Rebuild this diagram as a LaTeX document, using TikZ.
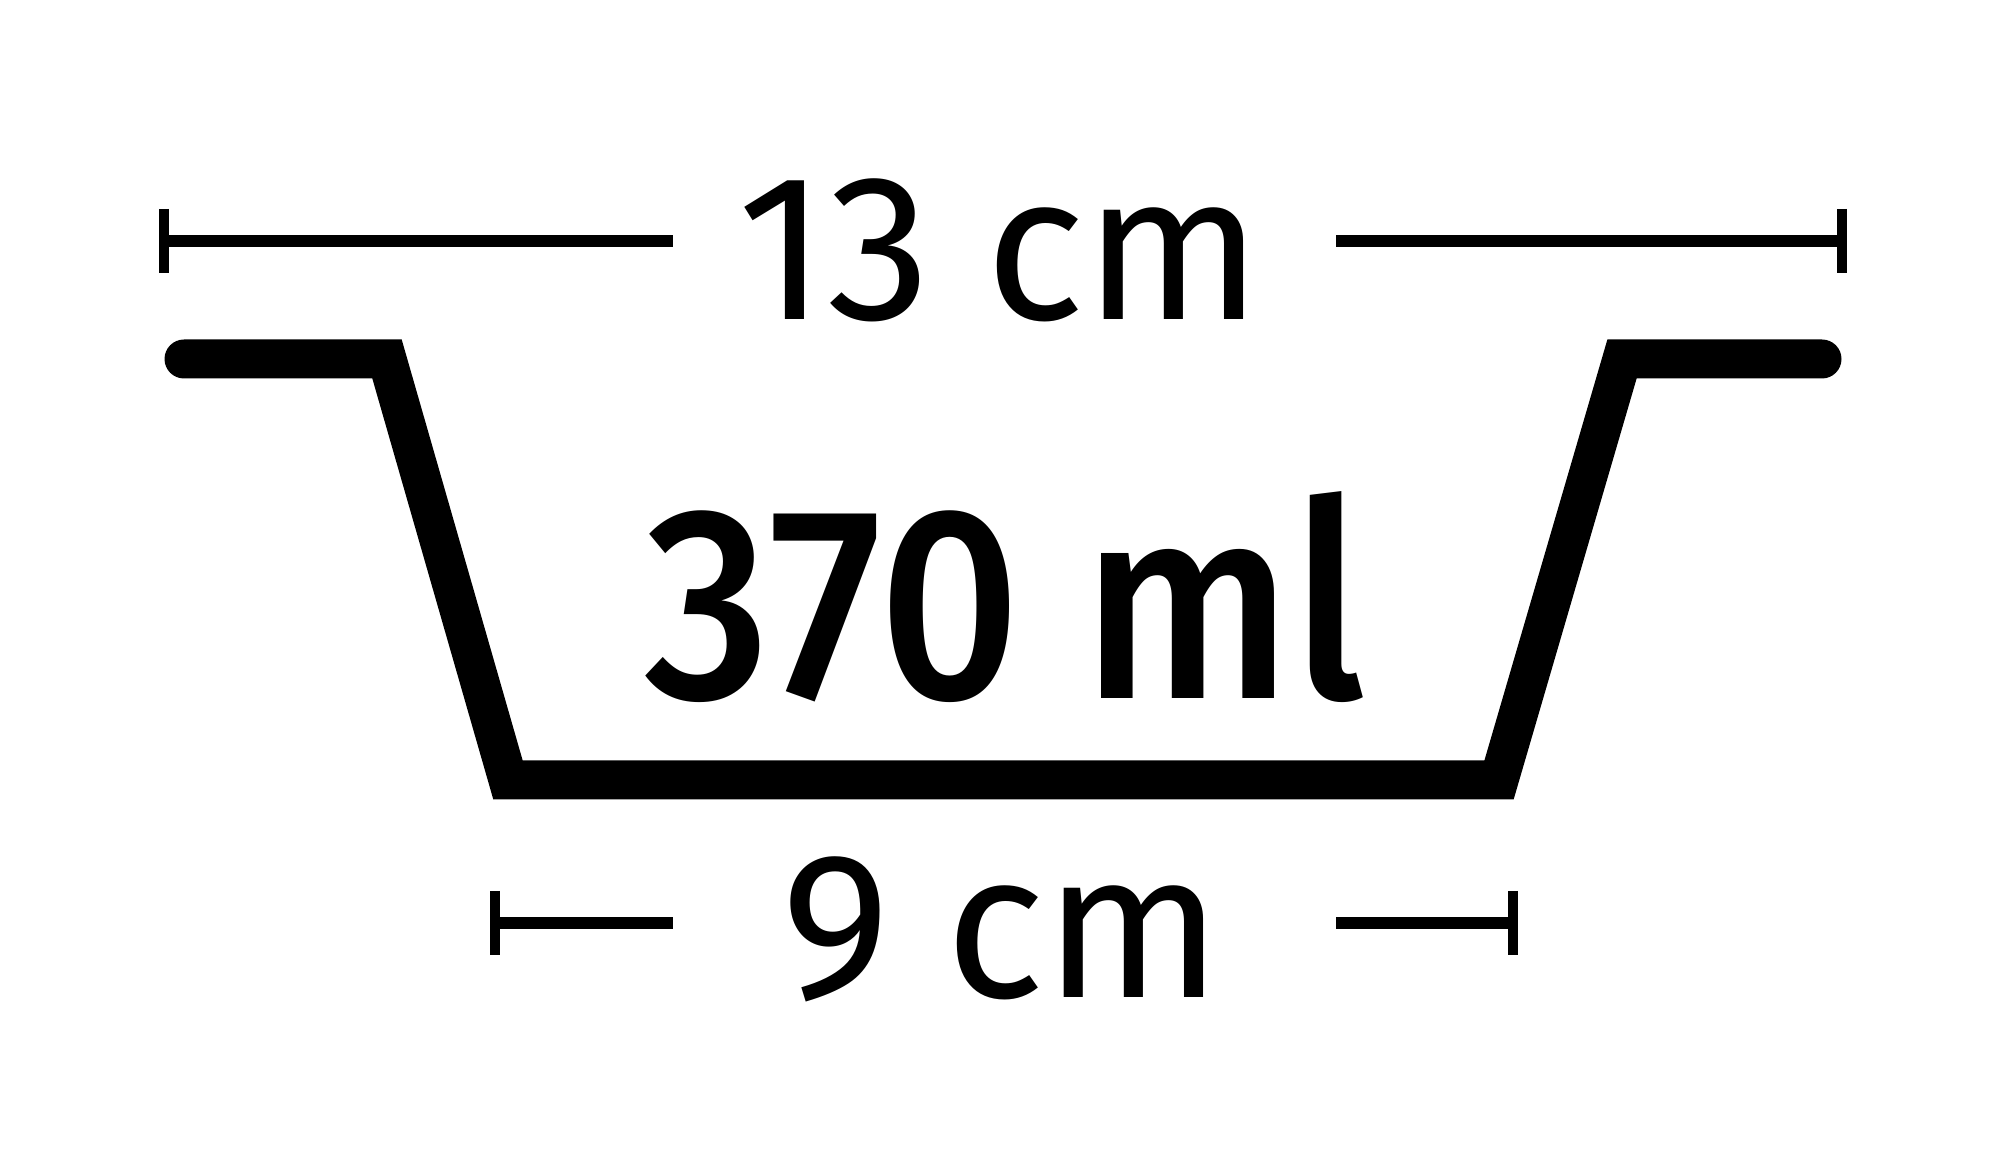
\documentclass[tikz,border=0pt]{standalone}
\usepackage{fontspec}
\setmainfont{Fira Sans}
\newfontfamily\volfont{Fira Sans Medium}

\begin{document}
\begin{tikzpicture}[every node/.style={inner sep=0pt}, dimline/.style={draw=black, line width=3.3pt}, tick/.style={draw=black, line width=3pt}, rim/.style={draw=black, line width=0.39cm, line cap=round, line join=miter}]
			\useasboundingbox (0,0) rectangle (20,11.6);
			
			\coordinate (tl) at (1.64,9.19);
			\coordinate (tla) at (6.73,9.19);
			\coordinate (tr) at (18.42,9.19);
			\coordinate (tra) at (13.36,9.19);
			\coordinate (bl) at (4.95,2.37);
			\coordinate (bla) at (6.73,2.37);
			\coordinate (br) at (15.13,2.37);
			\coordinate (bra) at (13.36,2.37);
			
			\coordinate (r1) at (1.84,8.01);
			\coordinate (r2) at (3.87,8.01);
			\coordinate (r3) at (5.08,3.80);
			\coordinate (r4) at (14.99,3.80);
			\coordinate (r5) at (16.22,8.01);
			\coordinate (r6) at (18.22,8.01);
			
			\node[anchor=base] (top) at (10.00,8.40) {\fontsize{59pt}{59pt}\selectfont 13 cm};
			\node[anchor=base, xscale=0.9] (vol) at (10.05,4.61) {\fontsize{78pt}{78pt}\selectfont\volfont 370 ml};
			\node[anchor=base] (bot) at (10.02,1.63) {\fontsize{59pt}{59pt}\selectfont 9 cm};
			
			\path[dimline] (tl) edge (tla);
			\path[dimline] (tr) edge (tra);
			\path[dimline] (bl) edge (bla);
			\path[dimline] (br) edge (bra);
			
			% end ticks
			\foreach \e in {tl,tr,bl,br}
				\path[tick] (\e) ++(0,0.32) -- ++(0,-0.64);
			
			\path[rim] (r1) -- (r2) -- (r3) -- (r4) -- (r5) -- (r6);
			\end{tikzpicture}
\end{document}
